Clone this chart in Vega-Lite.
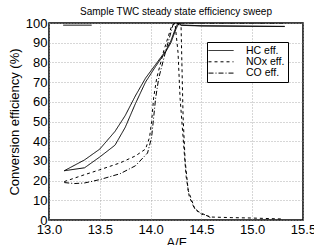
{
  "$schema": "https://vega.github.io/schema/vega-lite/v6.json",
  "autosize": "none",
  "width": 254,
  "height": 197,
  "padding": {"left": 49, "top": 23, "right": 11, "bottom": 25},
  "background": "white",
  "title": {"text": "Sample TWC steady state efficiency sweep", "fontSize": 10, "fontWeight": "normal", "font": "Liberation Sans", "offset": 0, "color": "black"},
  "config": {
    "view": {"stroke": "black", "strokeWidth": 1.5},
    "axis": {"labelFont": "Liberation Sans", "titleFont": "Liberation Sans", "labelFontSize": 13, "titleFontSize": 13, "titleFontWeight": "normal", "labelColor": "black", "titleColor": "black", "domain": false, "ticks": false, "gridColor": "#999", "gridDash": [1, 2], "gridWidth": 0.8, "gridOpacity": 1}
  },
  "data": {"values": [
    {"gas": "HC eff.", "branch": "a", "af": 13.15, "eff": 25},
    {"gas": "HC eff.", "branch": "a", "af": 13.35, "eff": 30.5},
    {"gas": "HC eff.", "branch": "a", "af": 13.5, "eff": 36},
    {"gas": "HC eff.", "branch": "a", "af": 13.65, "eff": 45},
    {"gas": "HC eff.", "branch": "a", "af": 13.75, "eff": 53},
    {"gas": "HC eff.", "branch": "a", "af": 13.85, "eff": 63},
    {"gas": "HC eff.", "branch": "a", "af": 13.95, "eff": 72},
    {"gas": "HC eff.", "branch": "a", "af": 14.05, "eff": 79},
    {"gas": "HC eff.", "branch": "a", "af": 14.15, "eff": 86},
    {"gas": "HC eff.", "branch": "a", "af": 14.2, "eff": 91},
    {"gas": "HC eff.", "branch": "a", "af": 14.25, "eff": 98},
    {"gas": "HC eff.", "branch": "a", "af": 14.27, "eff": 100},
    {"gas": "HC eff.", "branch": "a", "af": 14.3, "eff": 98.8},
    {"gas": "HC eff.", "branch": "a", "af": 14.5, "eff": 98.5},
    {"gas": "HC eff.", "branch": "a", "af": 15.0, "eff": 98.3},
    {"gas": "HC eff.", "branch": "a", "af": 15.32, "eff": 98.2},
    {"gas": "HC eff.", "branch": "b", "af": 13.15, "eff": 25},
    {"gas": "HC eff.", "branch": "b", "af": 13.35, "eff": 26.5},
    {"gas": "HC eff.", "branch": "b", "af": 13.5, "eff": 32},
    {"gas": "HC eff.", "branch": "b", "af": 13.65, "eff": 38},
    {"gas": "HC eff.", "branch": "b", "af": 13.75, "eff": 47},
    {"gas": "HC eff.", "branch": "b", "af": 13.85, "eff": 59},
    {"gas": "HC eff.", "branch": "b", "af": 13.95, "eff": 70},
    {"gas": "HC eff.", "branch": "b", "af": 14.05, "eff": 78},
    {"gas": "HC eff.", "branch": "b", "af": 14.15, "eff": 85.5},
    {"gas": "HC eff.", "branch": "b", "af": 14.2, "eff": 90},
    {"gas": "HC eff.", "branch": "b", "af": 14.25, "eff": 97},
    {"gas": "HC eff.", "branch": "b", "af": 14.28, "eff": 100},
    {"gas": "HC eff.", "branch": "b", "af": 14.3, "eff": 99},
    {"gas": "HC eff.", "branch": "b", "af": 14.5, "eff": 98.6},
    {"gas": "HC eff.", "branch": "b", "af": 15.0, "eff": 98.4},
    {"gas": "HC eff.", "branch": "b", "af": 15.32, "eff": 98.3},
    {"gas": "HC eff.", "branch": "c", "af": 13.14, "eff": 98.9},
    {"gas": "HC eff.", "branch": "c", "af": 13.42, "eff": 98.9},
    {"gas": "NOx eff.", "branch": "a", "af": 13.15, "eff": 19.5},
    {"gas": "NOx eff.", "branch": "a", "af": 13.35, "eff": 23},
    {"gas": "NOx eff.", "branch": "a", "af": 13.5, "eff": 25.5},
    {"gas": "NOx eff.", "branch": "a", "af": 13.7, "eff": 29},
    {"gas": "NOx eff.", "branch": "a", "af": 13.85, "eff": 32.5},
    {"gas": "NOx eff.", "branch": "a", "af": 13.95, "eff": 36},
    {"gas": "NOx eff.", "branch": "a", "af": 13.99, "eff": 42},
    {"gas": "NOx eff.", "branch": "a", "af": 14.01, "eff": 50},
    {"gas": "NOx eff.", "branch": "a", "af": 14.03, "eff": 62},
    {"gas": "NOx eff.", "branch": "a", "af": 14.06, "eff": 72},
    {"gas": "NOx eff.", "branch": "a", "af": 14.13, "eff": 86},
    {"gas": "NOx eff.", "branch": "a", "af": 14.21, "eff": 99},
    {"gas": "NOx eff.", "branch": "a", "af": 14.24, "eff": 100},
    {"gas": "NOx eff.", "branch": "a", "af": 14.27, "eff": 85},
    {"gas": "NOx eff.", "branch": "a", "af": 14.29, "eff": 62},
    {"gas": "NOx eff.", "branch": "a", "af": 14.33, "eff": 35},
    {"gas": "NOx eff.", "branch": "a", "af": 14.35, "eff": 22},
    {"gas": "NOx eff.", "branch": "a", "af": 14.38, "eff": 12},
    {"gas": "NOx eff.", "branch": "a", "af": 14.43, "eff": 6},
    {"gas": "NOx eff.", "branch": "a", "af": 14.5, "eff": 3},
    {"gas": "NOx eff.", "branch": "a", "af": 14.6, "eff": 1.5},
    {"gas": "NOx eff.", "branch": "a", "af": 14.8, "eff": 1.2},
    {"gas": "NOx eff.", "branch": "a", "af": 15.0, "eff": 1},
    {"gas": "NOx eff.", "branch": "a", "af": 15.3, "eff": 0.5},
    {"gas": "NOx eff.", "branch": "b", "af": 14.26, "eff": 100},
    {"gas": "NOx eff.", "branch": "b", "af": 14.3, "eff": 98},
    {"gas": "NOx eff.", "branch": "b", "af": 14.31, "eff": 75},
    {"gas": "NOx eff.", "branch": "b", "af": 14.32, "eff": 52},
    {"gas": "NOx eff.", "branch": "b", "af": 14.34, "eff": 30},
    {"gas": "NOx eff.", "branch": "b", "af": 14.37, "eff": 15},
    {"gas": "NOx eff.", "branch": "b", "af": 14.44, "eff": 5},
    {"gas": "NOx eff.", "branch": "b", "af": 14.6, "eff": 1},
    {"gas": "CO eff.", "branch": "a", "af": 13.15, "eff": 19},
    {"gas": "CO eff.", "branch": "a", "af": 13.25, "eff": 18.5},
    {"gas": "CO eff.", "branch": "a", "af": 13.35, "eff": 18.8},
    {"gas": "CO eff.", "branch": "a", "af": 13.5, "eff": 20.5},
    {"gas": "CO eff.", "branch": "a", "af": 13.7, "eff": 23.5},
    {"gas": "CO eff.", "branch": "a", "af": 13.85, "eff": 27.5},
    {"gas": "CO eff.", "branch": "a", "af": 13.97, "eff": 34},
    {"gas": "CO eff.", "branch": "a", "af": 14.01, "eff": 42},
    {"gas": "CO eff.", "branch": "a", "af": 14.03, "eff": 52},
    {"gas": "CO eff.", "branch": "a", "af": 14.05, "eff": 62},
    {"gas": "CO eff.", "branch": "a", "af": 14.08, "eff": 72},
    {"gas": "CO eff.", "branch": "a", "af": 14.15, "eff": 86},
    {"gas": "CO eff.", "branch": "a", "af": 14.22, "eff": 99},
    {"gas": "CO eff.", "branch": "a", "af": 14.25, "eff": 100},
    {"gas": "CO eff.", "branch": "a", "af": 15.3, "eff": 100}
  ]},
  "mark": {"type": "line", "color": "black", "strokeWidth": 1, "clip": true},
  "encoding": {
    "x": {"field": "af", "type": "quantitative", "title": "A/F", "scale": {"domain": [13, 15.5], "nice": false, "zero": false}, "axis": {"values": [13, 13.5, 14, 14.5, 15, 15.5], "labelPadding": 3, "titlePadding": 0, "labelFlush": false}},
    "y": {"field": "eff", "type": "quantitative", "title": "Conversion efficiency (%)", "scale": {"domain": [0, 100], "nice": false}, "axis": {"values": [0, 10, 20, 30, 40, 50, 60, 70, 80, 90, 100], "labelPadding": 2, "titlePadding": 4}},
    "detail": {"field": "branch"},
    "strokeDash": {"field": "gas", "type": "nominal", "sort": ["HC eff.", "NOx eff.", "CO eff."],
      "scale": {"domain": ["HC eff.", "NOx eff.", "CO eff."], "range": [[1, 0], [3, 3], [5, 2, 1, 2]]},
      "legend": {"title": null, "orient": "none", "legendX": 158, "legendY": 19, "strokeColor": "black", "fillColor": "white", "padding": 3, "cornerRadius": 0, "symbolType": "M-1.4,0H3.6", "symbolSize": 100, "symbolStrokeColor": "black", "symbolStrokeWidth": 1, "labelFont": "Liberation Sans", "labelFontSize": 10.5, "labelColor": "black", "labelOffset": 25, "rowPadding": 0.3}
    }
  }
}
